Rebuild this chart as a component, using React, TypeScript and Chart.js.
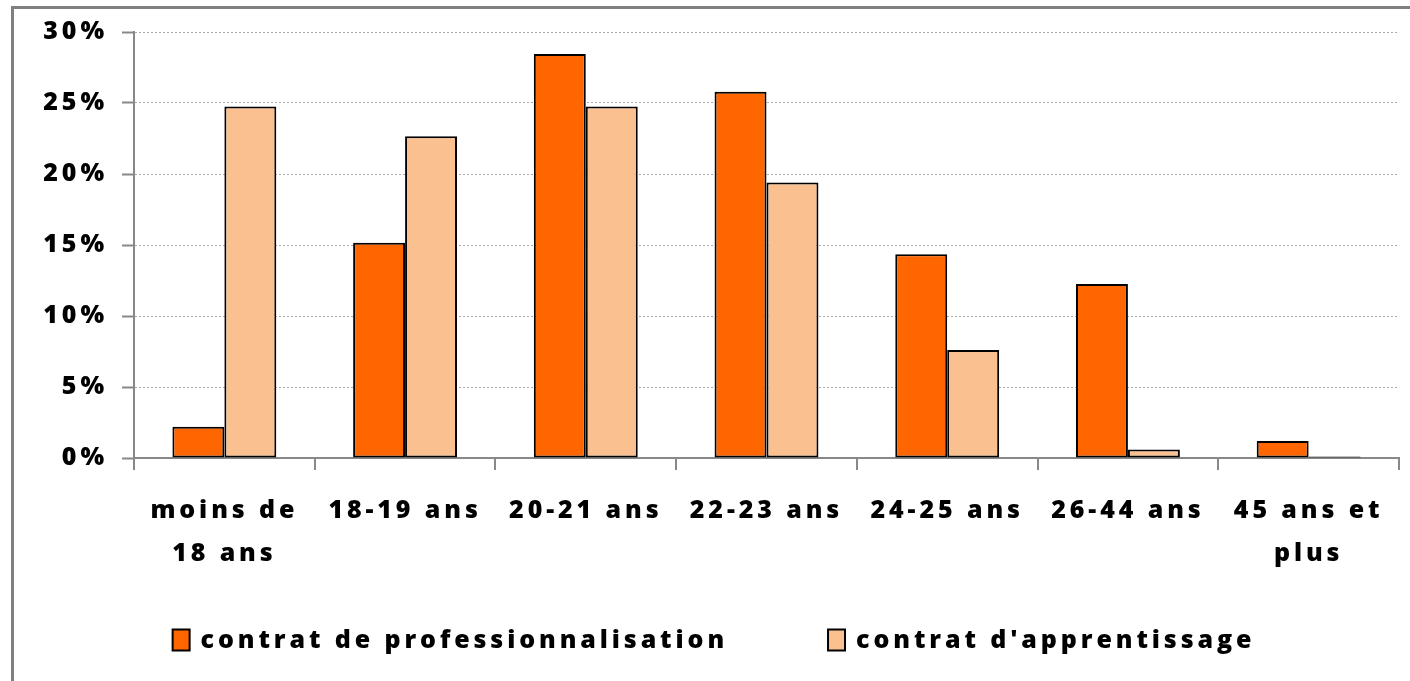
import React, { useEffect, useRef } from 'react';
import { Chart, registerables } from 'chart.js';

Chart.register(...registerables);

const categories: (string | string[])[] = [
  ['moins de', '18 ans'],
  '18-19 ans',
  '20-21 ans',
  '22-23 ans',
  '24-25 ans',
  '26-44 ans',
  ['45 ans et', 'plus'],
];
const proValues = [2.2, 15.15, 28.45, 25.8, 14.35, 12.25, 1.2];
const appValues = [24.75, 22.65, 24.75, 19.4, 7.6, 0.6, 0.1];
const yTickValues = [0, 5, 10, 15, 20, 25, 30];
const seriesNames = ['contrat de professionnalisation', "contrat d'apprentissage"];
const seriesColors = ['#FF6600', '#FAC090'];

const FONT_FAMILY = '"Open Sans", Lato, sans-serif';
const FONT_SIZE = 25;
const FONT_WEIGHT = 800;
const SPACING = '3.9px';

const stylePlugin = {
  id: 'stylePlugin',
  beforeUpdate(chart: any) {
    chart.ctx.letterSpacing = SPACING;
  },
  beforeLayout(chart: any) {
    chart.ctx.letterSpacing = SPACING;
  },
  beforeDraw(chart: any) {
    const ctx = chart.ctx;
    ctx.letterSpacing = SPACING;
    ctx.save();
    ctx.strokeStyle = '#808080';
    ctx.lineWidth = 3;
    ctx.beginPath();
    ctx.moveTo(12.5, chart.height + 5);
    ctx.lineTo(12.5, 7.5);
    ctx.lineTo(chart.width + 5, 7.5);
    ctx.stroke();
    ctx.restore();
  },
  afterDraw(chart: any) {
    // legend row
    const ctx = chart.ctx;
    ctx.save();
    ctx.letterSpacing = SPACING;
    ctx.font = `${FONT_WEIGHT} ${FONT_SIZE}px ${FONT_FAMILY}`;
    ctx.textBaseline = 'middle';
    ctx.textAlign = 'left';
    const boxW = 17;
    const boxH = 21;
    const gapBoxText = 11;
    const gapItems = 100;
    const items = chart.data.datasets.map((ds: any) => ({
      text: ds.label as string,
      fill: ds.backgroundColor as string,
      w: boxW + gapBoxText + ctx.measureText(ds.label).width,
    }));
    const total = items.reduce((s: number, it: any) => s + it.w, 0) + gapItems * (items.length - 1);
    const centerX = 714;
    const cy = 640;
    let x = centerX - total / 2;
    items.forEach((it: any) => {
      ctx.fillStyle = it.fill;
      ctx.fillRect(x, cy - boxH / 2, boxW, boxH);
      ctx.strokeStyle = '#000';
      ctx.lineWidth = 2;
      ctx.strokeRect(x, cy - boxH / 2, boxW, boxH);
      ctx.fillStyle = '#000';
      ctx.fillText(it.text, x + boxW + gapBoxText, cy + 1);
      x += it.w + gapItems;
    });
    ctx.restore();
  },
};

export default function App() {
  const ref = useRef<HTMLCanvasElement | null>(null);

  useEffect(() => {
    if (!ref.current) return;
    const font = { family: FONT_FAMILY, size: FONT_SIZE, weight: FONT_WEIGHT as any };
    const chart = new Chart(ref.current, {
      type: 'bar',
      data: {
        labels: categories,
        datasets: [
          {
            label: seriesNames[0],
            data: proValues,
            backgroundColor: seriesColors[0],
            borderColor: '#000',
            borderWidth: 2,
            borderSkipped: false,
          },
          {
            label: seriesNames[1],
            data: appValues,
            backgroundColor: seriesColors[1],
            borderColor: '#000',
            borderWidth: 2,
            borderSkipped: false,
          },
        ],
      },
      options: {
        animation: false,
        responsive: false,
        events: [],
        layout: { padding: { left: 24, right: 11, top: 32, bottom: 109 } },
        datasets: { bar: { categoryPercentage: 0.575, barPercentage: 1 } },
        scales: {
          x: {
            grid: {
              display: true,
              drawOnChartArea: false,
              drawTicks: true,
              tickLength: 12,
              color: '#888',
              lineWidth: 2,
              offset: true,
            },
            border: { display: true, color: '#888', width: 2 },
            ticks: {
              font: { ...font, lineHeight: 1.72 },
              color: '#000',
              padding: 19,
              maxRotation: 0,
              minRotation: 0,
              autoSkip: false,
            },
            afterFit(scale: any) {
              scale.height = 114;
            },
          },
          y: {
            min: 0,
            max: 30,
            afterBuildTicks(scale: any) {
              scale.ticks = yTickValues.map((v) => ({ value: v }));
            },
            grid: {
              color: '#aaa',
              lineWidth: 1,
              tickLength: 12,
              tickColor: '#888',
              tickWidth: 2,
              tickBorderDash: [],
            },
            border: { display: true, color: '#888', width: 2, dash: [2, 2] },
            ticks: {
              font,
              color: '#000',
              padding: 14,
              callback: (v: any) => `${v}%`,
            },
            afterFit(scale: any) {
              scale.width = 110;
            },
          },
        },
        plugins: {
          tooltip: { enabled: false },
          title: { display: false },
          legend: { display: false },
        },
      },
      plugins: [stylePlugin],
    });
    return () => chart.destroy();
  }, []);

  return (
    <div style={{ position: 'absolute', left: 0, top: 0, width: 1410, height: 681, background: '#fff' }}>
      <canvas ref={ref} width={1410} height={681} style={{ display: 'block' }} />
    </div>
  );
}
